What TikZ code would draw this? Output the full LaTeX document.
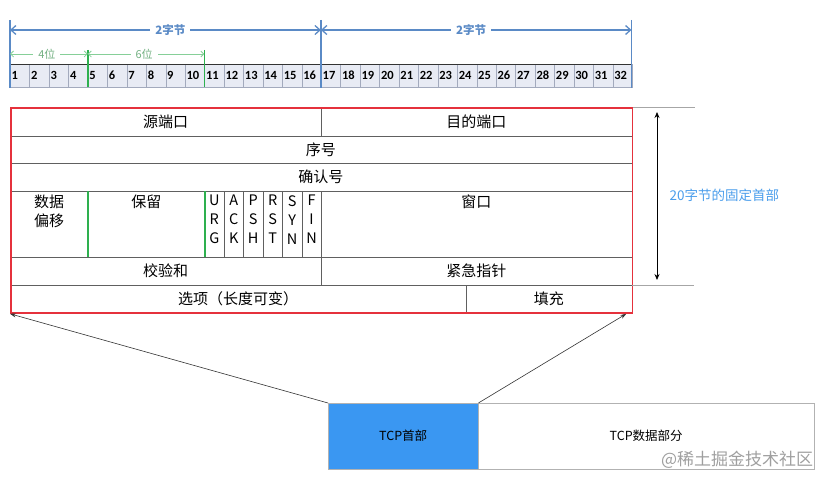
\documentclass[tikz,border=0pt]{standalone}
\usepackage{fontspec}
\setmainfont{Noto Sans CJK SC}
\newfontfamily\bitfont{Carlito}
\usetikzlibrary{arrows.meta}

\definecolor{bytecolor}{HTML}{5A8AC6}
\definecolor{splitgreen}{HTML}{2EB04F}
\definecolor{lightgreen}{HTML}{86CF98}
\definecolor{cellfill}{HTML}{E8EBF4}
\definecolor{cellline}{HTML}{A3AABD}
\definecolor{framered}{HTML}{E5313C}
\definecolor{headblue}{HTML}{3A97F2}
\definecolor{notecolor}{HTML}{4A9DEB}

\tikzset{
    bitcell/.style = {
        rectangle, draw=cellline, fill=cellfill,
        anchor=north west,
        minimum height=23pt,
        text width=16.44pt, inner xsep=1.5pt,
        align=left,
        font=\bitfont\bfseries\fontsize{12.5}{13}\selectfont
    },
    field/.style = {
        rectangle, draw=gray!75!black,
        anchor=north west,
        inner sep=0pt,
        font=\fontsize{15}{18}\selectfont
    },
    toplabel/.style = {
        anchor=north, inner sep=4pt, align=center,
        font=\fontsize{15}{19}\selectfont
    },
    flaglabel/.style = {
        anchor=north, inner sep=4pt, align=center,
        font=\fontsize{14.5}{19}\selectfont
    },
    bytearrow/.style = {
        {Straight Barb[length=5pt,width=9pt]}-{Straight Barb[length=5pt,width=9pt]},
        draw=bytecolor, line width=1.3pt
    },
    bytelabel/.style = {
        fill=white, text=bytecolor, inner xsep=5pt,
        font=\bfseries\fontsize{11.5}{13}\selectfont
    },
    bitarrow/.style = {
        {Straight Barb[length=3pt,width=6pt]}-{Straight Barb[length=3pt,width=6pt]},
        draw=lightgreen, line width=0.8pt
    },
    bitlabel/.style = {
        fill=white, text=lightgreen!85!black, inner xsep=5pt,
        font=\fontsize{11}{13}\selectfont
    },
    bytemark/.style = {draw=bytecolor, line width=1.2pt},
    bitsplit/.style = {draw=splitgreen, line width=1.6pt},
    extline/.style = {draw=gray!70, line width=0.6pt},
    dimarrow/.style = {{Stealth[length=6pt,width=5pt]}-{Stealth[length=6pt,width=5pt]}, line width=0.8pt},
    pointer/.style = {-{Stealth[length=6pt,width=4pt]}, line width=0.6pt, draw=black!80},
    segment/.style = {
        rectangle, draw=gray!60, anchor=north west,
        minimum height=66pt, inner sep=0pt,
        font=\fontsize{12.5}{14}\selectfont
    }
}

\begin{document}
\begin{tikzpicture}[x=1pt, y=-1pt]
\useasboundingbox (0,0) rectangle (827,484);

% bit ruler
\foreach \i in {1,...,32}
    \node (bit\i) [bitcell] at ({10+(\i-1)*19.4375},64) {\i};
\draw [gray!40!black, line width=0.8pt] (bit1.north west) -- (bit32.north east);

\draw [bytemark] (10,20) -- (10,88);
\draw [bytemark] (320.9,20) -- (320.9,88);
\draw [bytemark] (631.5,20) -- (631.5,88);
\coordinate (byteA) at (10,30);
\coordinate (byteB) at (320.9,30);
\coordinate (byteC) at (631.5,30);
\draw [bytearrow] (byteA) -- node[bytelabel, xshift=5pt] {2字节} (byteB);
\draw [bytearrow] (byteB) -- node[bytelabel, xshift=-5pt] {2字节} (byteC);

\draw [bitsplit] (bit5.north west |- 0,50) -- (bit5.south west);
\draw [bitsplit] (bit11.north west |- 0,50) -- (bit11.south west);
\coordinate (bitA) at (10,54);
\coordinate (bitB) at (bit5.west |- 0,54);
\coordinate (bitC) at (bit11.west |- 0,54);
\draw [bitarrow] (bitA) -- node[bitlabel, xshift=-2pt] {4位} (bitB);
\draw [bitarrow] (bitB) -- node[bitlabel, xshift=-2pt] {6位} (bitC);

% header fields
\node (srcport) [field, minimum width=310.9pt, minimum height=29pt] at (10,107) {源端口};
\node (dstport) [field, minimum width=310.6pt, minimum height=29pt] at (320.9,107) {目的端口};
\node (seqnum) [field, minimum width=621.5pt, minimum height=27pt] at (10,136) {序号};
\node (acknum) [field, minimum width=621.5pt, minimum height=28pt] at (10,163) {确认号};

\node (offset) [field, minimum width=77.8pt, minimum height=66pt,
    label={[toplabel]north:数据\\偏移}] at (10,191) {};
\node (reserved) [field, minimum width=116.6pt, minimum height=66pt,
    label={[toplabel]north:保留}] at (87.8,191) {};
\node (urg) [field, minimum width=19.44pt, minimum height=66pt,
    label={[flaglabel]north:U\\R\\G}] at (204.4,191) {};
\node (ack) [field, minimum width=19.44pt, minimum height=66pt,
    label={[flaglabel]north:A\\C\\K}] at (223.8,191) {};
\node (psh) [field, minimum width=19.44pt, minimum height=66pt,
    label={[flaglabel]north:P\\S\\H}] at (243.3,191) {};
\node (rst) [field, minimum width=19.44pt, minimum height=66pt,
    label={[flaglabel]north:R\\S\\T}] at (262.7,191) {};
\node (syn) [field, minimum width=19.44pt, minimum height=66pt,
    label={[flaglabel]north:S\\Y\\N}] at (282.2,191) {};
\node (fin) [field, minimum width=19.44pt, minimum height=66pt,
    label={[flaglabel]north:F\\I\\N}] at (301.6,191) {};
\node (window) [field, minimum width=310.6pt, minimum height=66pt,
    label={[toplabel]north:窗口}] at (320.9,191) {};

\node (checksum) [field, minimum width=310.9pt, minimum height=28pt] at (10,257) {校验和};
\node (urgent) [field, minimum width=310.6pt, minimum height=28pt] at (320.9,257) {紧急指针};
\node (options) [field, minimum width=455.6pt, minimum height=27pt] at (10,285) {选项（长度可变）};
\node (padding) [field, minimum width=165.9pt, minimum height=27pt] at (465.6,285) {填充};

\draw [bitsplit] (offset.north east) -- (offset.south east);
\draw [bitsplit] (reserved.north east) -- (reserved.south east);

\node (hdrframe) [rectangle, draw=framered, line width=1.8pt, anchor=north west,
    minimum width=621.5pt, minimum height=205pt] at (10,107) {};

% fixed header length
\draw [extline] (hdrframe.north east) -- ++(62,0);
\draw [extline] (padding.north east) -- ++(62,0);
\coordinate (lenTop) at (657,112);
\coordinate (lenBot) at (657,280);
\draw [dimarrow] (lenTop) -- (lenBot);
\node (fixlen) [text=notecolor, font=\fontsize{13.5}{15}\selectfont, anchor=west] at (666,195) {20字节的固定首部};

% segment
\node (tcphead) [segment, fill=headblue, minimum width=150pt] at (328,403) {TCP首部};
\node (tcpdata) [segment, minimum width=336pt] at (478,403) {TCP数据部分};
\node (mark) [text=gray!75, font=\fontsize{17}{19}\selectfont, anchor=south east, inner sep=1pt]
    at (tcpdata.south east) {@稀土掘金技术社区};

\coordinate (frameR) at ([xshift=-7pt]hdrframe.south east);
\draw [pointer] (tcphead.north west) -- (hdrframe.south west);
\draw [pointer] (tcphead.north east) -- (frameR);

\end{tikzpicture}
\end{document}
